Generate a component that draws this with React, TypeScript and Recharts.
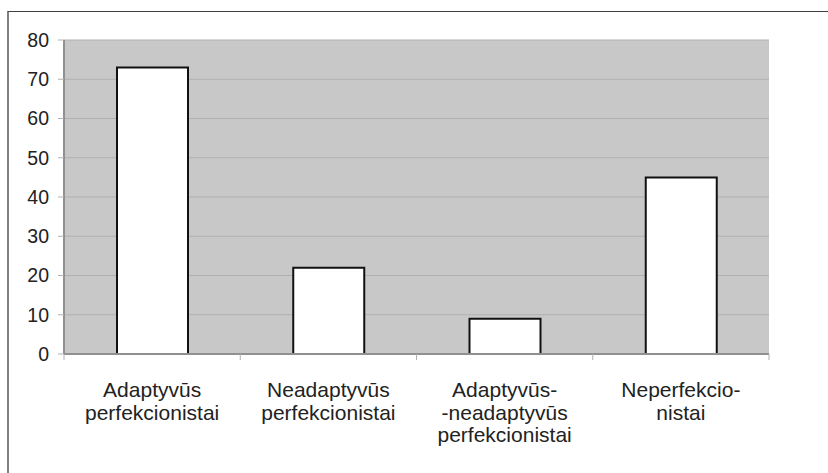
import { BarChart, Bar, XAxis, YAxis, CartesianGrid } from "recharts";

// values
const categories = [
  "Adaptyvūs\nperfekcionistai",
  "Neadaptyvūs\nperfekcionistai",
  "Adaptyvūs-\n-neadaptyvūs\nperfekcionistai",
  "Neperfekcio-\nnistai",
];
const values = [73, 22, 9, 45];
const yTicks = [0, 10, 20, 30, 40, 50, 60, 70, 80];

const chartData = categories.map((name, i) => ({ name, value: values[i] }));

const FONT = "'Liberation Sans', Arial, Helvetica, sans-serif";

function CategoryTick(props: any) {
  const { x, y, payload, index, width, visibleTicksCount } = props;
  const half = width / visibleTicksCount / 2;
  const lines = String(payload.value).split("\n");
  return (
    <g>
      <line x1={x - half} x2={x - half} y1={y} y2={y + 6} stroke="#b0b0b0" />
      {index === visibleTicksCount - 1 && (
        <line x1={x + half} x2={x + half} y1={y} y2={y + 6} stroke="#b0b0b0" />
      )}
      <text textAnchor="middle" fill="#222" fontSize={21} fontFamily={FONT}>
        {lines.map((line, i) => (
          <tspan key={i} x={x} y={y + 43 + i * 22.7}>
            {line}
          </tspan>
        ))}
      </text>
    </g>
  );
}

export default function App() {
  return (
    <div style={{ position: "absolute", left: 0, top: 0, width: 828, height: 473 }}>
      <div
        style={{
          position: "absolute",
          left: 7,
          top: 11,
          width: 821,
          height: 462,
          borderTop: "1px solid #404040",
          borderLeft: "2px solid #808080",
          boxSizing: "border-box",
        }}
      />
      <div style={{ position: "absolute", left: 0, top: 0 }}>
        <BarChart
          width={828}
          height={473}
          data={chartData}
          margin={{ top: 40, right: 59, left: 0, bottom: 0 }}
          barSize={71}
          style={{ fontFamily: FONT }}
        >
          <CartesianGrid vertical={false} stroke="#b0b0b0" fill="#c8c8c8" />
          <XAxis
            dataKey="name"
            height={119}
            interval={0}
            tickLine={false}
            tickSize={0}
            tickMargin={0}
            axisLine={{ stroke: "#909090", strokeWidth: 2 }}
            tick={<CategoryTick />}
          />
          <YAxis
            width={64}
            domain={[0, 80]}
            ticks={yTicks}
            interval={0}
            tickSize={6}
            tickMargin={9}
            tickLine={{ stroke: "#b0b0b0" }}
            axisLine={{ stroke: "#909090", strokeWidth: 2 }}
            tick={{ fill: "#222", fontSize: 19.5, fontFamily: FONT }}
          />
          <YAxis
            yAxisId="frame"
            orientation="right"
            width={0}
            domain={[0, 80]}
            tick={false}
            tickLine={false}
            axisLine={{ stroke: "#808080", strokeWidth: 2 }}
          />
          <Bar
            dataKey="value"
            fill="#ffffff"
            stroke="#111111"
            strokeWidth={2}
            isAnimationActive={false}
          />
        </BarChart>
      </div>
    </div>
  );
}
